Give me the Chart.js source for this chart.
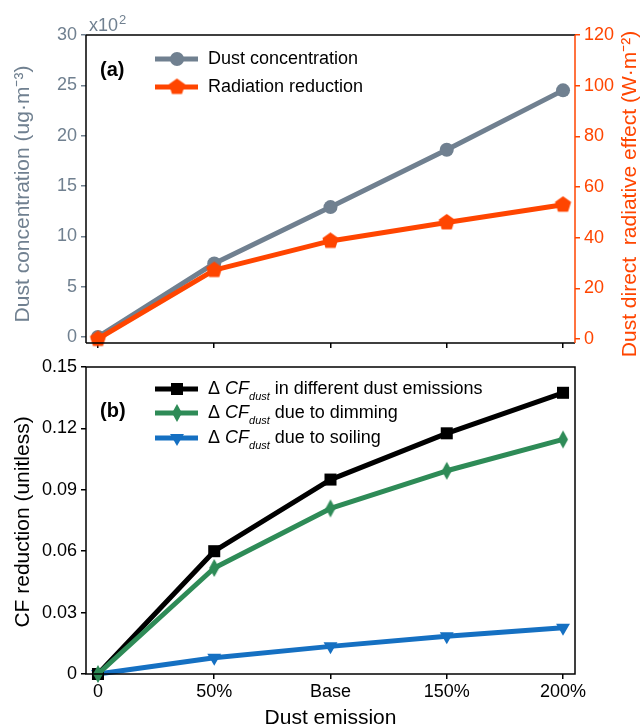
<!DOCTYPE html>
<html>
<head>
<meta charset="utf-8">
<script src="https://cdn.jsdelivr.net/npm/chart.js@4/dist/chart.umd.min.js"></script>
<style>
  body { margin: 0; background: #fff; }
  #wrap { position: relative; width: 643px; height: 727px; }
  #top { position: absolute; left: 0; top: 0; }
  #bot { position: absolute; left: 0; top: 350px; }
</style>
</head>
<body>
<div id="wrap">
  <canvas id="top" width="643" height="360"></canvas>
  <canvas id="bot" width="643" height="377"></canvas>
</div>
<script>
// data
const emission = ['0', '50%', 'Base', '150%', '200%'];
const dustConc = [0, 7.3, 12.9, 18.6, 24.5];        // x10^2 ug m-3
const radReduction = [0, 27.2, 38.7, 46.0, 53.0];    // W m-2
const cfTotal = [0, 0.060, 0.095, 0.1176, 0.1374];
const cfDimming = [0, 0.0518, 0.0809, 0.0993, 0.1146];
const cfSoiling = [0, 0.0079, 0.0135, 0.0184, 0.0226];

const concTicks = [0, 5, 10, 15, 20, 25, 30];
const radTicks = [0, 20, 40, 60, 80, 100, 120];
const cfTicks = [0, 0.03, 0.06, 0.09, 0.12, 0.15];
const cfLegend = ['in different dust emissions', 'due to dimming', 'due to soiling'];

const GREY = '#708090', ORANGE = '#FF4500', GREEN = '#2E8B57', BLUE = '#1570C2';
const FONT = '"Liberation Sans", Arial, sans-serif';

function xy(arr) { return arr.map((v, i) => ({ x: i, y: v })); }

// custom marker shapes
function pentagon(color, r) {
  const c = document.createElement('canvas');
  c.width = c.height = Math.ceil(r * 2 + 2);
  const g = c.getContext('2d');
  g.fillStyle = color;
  g.beginPath();
  for (let k = 0; k < 5; k++) {
    const a = -Math.PI / 2 + k * 2 * Math.PI / 5;
    g.lineTo(c.width / 2 + r * Math.cos(a), c.height / 2 + r * Math.sin(a));
  }
  g.closePath();
  g.fill();
  return c;
}
function thinDiamond(color, w, h) {
  const c = document.createElement('canvas');
  c.width = w + 2; c.height = h + 2;
  const g = c.getContext('2d');
  g.fillStyle = color;
  g.beginPath();
  g.moveTo(c.width / 2, 1);
  g.lineTo(c.width - 1, c.height / 2);
  g.lineTo(c.width / 2, c.height - 1);
  g.lineTo(1, c.height / 2);
  g.closePath();
  g.fill();
  return c;
}

function fixTicks(values) {
  return function (scale) { scale.ticks = values.map(v => ({ value: v })); };
}

const xMin = -0.103, xMax = 4.103;

function drawLegend(chart, rows, textFn) {
  const ctx = chart.ctx;
  ctx.save();
  rows.forEach((ds, i) => {
    const y = ds.legendY;
    ctx.strokeStyle = ds.borderColor;
    ctx.lineWidth = 5;
    ctx.beginPath();
    ctx.moveTo(155, y); ctx.lineTo(198, y);
    ctx.stroke();
    ctx.fillStyle = ds.borderColor;
    ctx.strokeStyle = ds.borderColor;
    ctx.lineWidth = 0;
    Chart.helpers.drawPoint(ctx, {
      pointStyle: ds.pointStyle, radius: ds.pointRadius,
      rotation: ds.pointRotation || 0, borderWidth: 0
    }, 177, y);
    textFn(ctx, ds, i, 208, y);
  });
  ctx.restore();
}

// ---------- panel (a) ----------
const topPlugin = {
  id: 'topDecor',
  afterDraw(chart) {
    const ctx = chart.ctx, a = chart.chartArea;
    ctx.save();
    ctx.lineWidth = 1.5;
    ctx.strokeStyle = '#000';
    ctx.beginPath();
    ctx.moveTo(a.left, a.top); ctx.lineTo(a.right, a.top);
    ctx.moveTo(a.left, a.bottom); ctx.lineTo(a.right, a.bottom);
    ctx.moveTo(a.left, a.top); ctx.lineTo(a.left, a.bottom);
    ctx.stroke();
    ctx.strokeStyle = ORANGE;
    ctx.beginPath();
    ctx.moveTo(a.right, a.top); ctx.lineTo(a.right, a.bottom);
    ctx.stroke();

    // axis titles
    ctx.font = '21px ' + FONT;
    ctx.textAlign = 'center';
    ctx.textBaseline = 'middle';
    ctx.fillStyle = GREY;
    ctx.save();
    ctx.translate(23, 194); ctx.rotate(-Math.PI / 2);
    ctx.fillText('Dust concentration (ug·m⁻³)', 0, 0);
    ctx.restore();
    ctx.fillStyle = ORANGE;
    ctx.save();
    ctx.translate(630, 194); ctx.rotate(-Math.PI / 2);
    ctx.fillText('Dust direct  radiative effect (W·m⁻²)', 0, 0);
    ctx.restore();

    // x10^2 multiplier
    ctx.fillStyle = GREY;
    ctx.textAlign = 'left';
    ctx.textBaseline = 'alphabetic';
    ctx.font = '18px ' + FONT;
    ctx.fillText('x10', 89, 31);
    const w = ctx.measureText('x10').width;
    ctx.font = '13px ' + FONT;
    ctx.fillText('2', 89 + w + 1, 24);

    // panel tag
    ctx.fillStyle = '#000';
    ctx.font = 'bold 20px ' + FONT;
    ctx.textBaseline = 'middle';
    ctx.fillText('(a)', 100, 70);

    drawLegend(chart, chart.data.datasets.slice().sort((p, q) => p.legendY - q.legendY), (c, ds, i, x, y) => {
      c.fillStyle = '#000';
      c.font = '18px ' + FONT;
      c.textAlign = 'left';
      c.textBaseline = 'middle';
      c.fillText(ds.label, x, y);
    });
    ctx.restore();
  }
};

new Chart(document.getElementById('top'), {
  type: 'line',
  data: {
    datasets: [
      {
        label: 'Radiation reduction', data: xy(radReduction), yAxisID: 'y2',
        borderColor: ORANGE, backgroundColor: ORANGE, borderWidth: 5, pointBorderWidth: 0,
        pointStyle: pentagon(ORANGE, 8.5), pointRadius: 8, order: 0, legendY: 87
      },
      {
        label: 'Dust concentration', data: xy(dustConc), yAxisID: 'y',
        borderColor: GREY, backgroundColor: GREY, borderWidth: 5, pointBorderWidth: 0,
        pointStyle: 'circle', pointRadius: 7, order: 1, legendY: 59
      }
    ]
  },
  options: {
    responsive: false,
    animation: false,
    clip: false,
    layout: { padding: { top: 35, left: 0, right: 0, bottom: 0 } },
    elements: { line: { tension: 0, borderJoinStyle: 'round' }, point: { borderWidth: 0 } },
    plugins: { legend: { display: false }, tooltip: { enabled: false } },
    scales: {
      x: {
        type: 'linear', min: xMin, max: xMax,
        afterBuildTicks: fixTicks([0, 1, 2, 3, 4]),
        afterFit(s) { s.height = 17; },
        ticks: { display: false },
        border: { display: false },
        grid: { drawOnChartArea: false, tickLength: 5, color: '#000', lineWidth: 1.5 }
      },
      y: {
        position: 'left', min: -0.6, max: 30,
        afterBuildTicks: fixTicks(concTicks),
        afterFit(s) { s.width = 86; },
        ticks: { color: GREY, font: { family: FONT, size: 18 }, padding: 4 },
        border: { display: false },
        grid: { drawOnChartArea: false, tickLength: 5, color: GREY, lineWidth: 1.5 }
      },
      y2: {
        position: 'right', min: -1.6, max: 120,
        afterBuildTicks: fixTicks(radTicks),
        afterFit(s) { s.width = 68; },
        ticks: { color: ORANGE, font: { family: FONT, size: 18 }, padding: 4 },
        border: { display: false },
        grid: { drawOnChartArea: false, tickLength: 5, color: ORANGE, lineWidth: 1.5 }
      }
    }
  },
  plugins: [topPlugin]
});

// ---------- panel (b) ----------
const botPlugin = {
  id: 'botDecor',
  afterDraw(chart) {
    const ctx = chart.ctx, a = chart.chartArea;
    ctx.save();
    ctx.lineWidth = 1.5;
    ctx.strokeStyle = '#000';
    ctx.strokeRect(a.left, a.top, a.right - a.left, a.bottom - a.top);

    ctx.fillStyle = '#000';
    ctx.font = '21px ' + FONT;
    ctx.textAlign = 'center';
    ctx.textBaseline = 'middle';
    ctx.save();
    ctx.translate(23, 172); ctx.rotate(-Math.PI / 2);
    ctx.fillText('CF reduction (unitless)', 0, 0);
    ctx.restore();
    ctx.fillText('Dust emission', (a.left + a.right) / 2, 368);

    ctx.font = 'bold 20px ' + FONT;
    ctx.textAlign = 'left';
    ctx.fillText('(b)', 100, 61);

    drawLegend(chart, chart.data.datasets.slice().sort((p, q) => p.legendY - q.legendY), (c, ds, i, x, y) => {
      c.fillStyle = '#000';
      c.textAlign = 'left';
      c.textBaseline = 'middle';
      c.font = '18px ' + FONT;
      c.fillText('Δ ', x, y);
      let cx = x + c.measureText('Δ ').width;
      c.font = 'italic 18px ' + FONT;
      c.fillText('CF', cx, y);
      cx += c.measureText('CF').width;
      c.font = 'italic 11px ' + FONT;
      c.fillText('dust', cx, y + 8);
      cx += c.measureText('dust').width + 5;
      c.font = '18px ' + FONT;
      c.fillText(ds.legendText, cx, y);
    });
    ctx.restore();
  }
};

new Chart(document.getElementById('bot'), {
  type: 'line',
  data: {
    datasets: [
      {
        label: 'Δ CF dust ' + cfLegend[1], legendText: cfLegend[1], data: xy(cfDimming),
        borderColor: GREEN, backgroundColor: GREEN, borderWidth: 5, pointBorderWidth: 0,
        pointStyle: thinDiamond(GREEN, 10, 18), pointRadius: 8, order: 0, legendY: 63
      },
      {
        label: 'Δ CF dust ' + cfLegend[0], legendText: cfLegend[0], data: xy(cfTotal),
        borderColor: '#000', backgroundColor: '#000', borderWidth: 5, pointBorderWidth: 0,
        pointStyle: 'rect', pointRadius: 8.5, order: 1, legendY: 39
      },
      {
        label: 'Δ CF dust ' + cfLegend[2], legendText: cfLegend[2], data: xy(cfSoiling),
        borderColor: BLUE, backgroundColor: BLUE, borderWidth: 5, pointBorderWidth: 0,
        pointStyle: 'triangle', pointRotation: 180, pointRadius: 8, order: 2, legendY: 88
      }
    ]
  },
  options: {
    responsive: false,
    animation: false,
    clip: false,
    layout: { padding: { top: 17, left: 0, right: 68, bottom: 0 } },
    elements: { line: { tension: 0, borderJoinStyle: 'round' }, point: { borderWidth: 0 } },
    plugins: { legend: { display: false }, tooltip: { enabled: false } },
    scales: {
      x: {
        type: 'linear', min: xMin, max: xMax,
        afterBuildTicks: fixTicks([0, 1, 2, 3, 4]),
        afterFit(s) { s.height = 53; },
        ticks: {
          color: '#000', font: { family: FONT, size: 18 }, padding: 2, maxRotation: 0,
          callback: v => emission[v]
        },
        border: { display: false },
        grid: { drawOnChartArea: false, tickLength: 5, color: '#000', lineWidth: 1.5 }
      },
      y: {
        position: 'left', min: 0, max: 0.15,
        afterBuildTicks: fixTicks(cfTicks),
        afterFit(s) { s.width = 86; },
        ticks: {
          color: '#000', font: { family: FONT, size: 18 }, padding: 4,
          callback: v => v === 0 ? '0' : v.toFixed(2)
        },
        border: { display: false },
        grid: { drawOnChartArea: false, tickLength: 5, color: '#000', lineWidth: 1.5 }
      }
    }
  },
  plugins: [botPlugin]
});
</script>
</body>
</html>
